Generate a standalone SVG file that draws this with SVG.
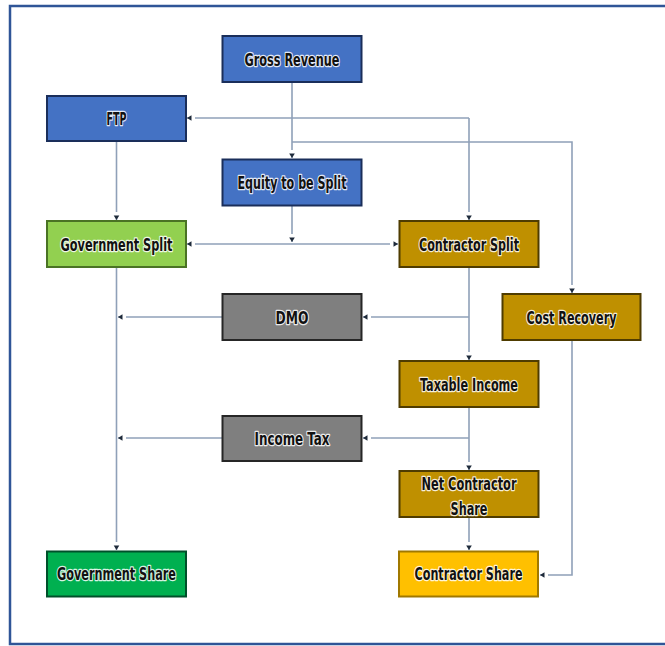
<svg xmlns="http://www.w3.org/2000/svg" width="665" height="646" viewBox="0 0 665 646">
  <defs>
    <style>
      .box { stroke-width: 2; }
      .blue { fill: #4472C4; stroke: #1A2E5A; }
      .lgreen { fill: #92D050; stroke: #4A7324; }
      .gold { fill: #BF9000; stroke: #4F3C00; }
      .gray { fill: #7F7F7F; stroke: #262626; }
      .green { fill: #00B050; stroke: #00502A; }
      .yellow { fill: #FFC000; stroke: #A07800; }
      .lbl { font-family: "Liberation Sans Narrow", "DejaVu Sans Condensed", "Liberation Sans", sans-serif; font-weight: bold; font-size: 17.5px; fill: #111111; stroke: #ffffff; stroke-width: 2.6; stroke-opacity: 0.85; paint-order: stroke; stroke-linejoin: round; text-anchor: middle; }
      .con { fill: none; stroke: #8FA0B8; stroke-width: 1.6; }
    </style>
    <marker id="arr" viewBox="0 0 10 8" refX="10" refY="4" markerWidth="10" markerHeight="8" markerUnits="userSpaceOnUse" orient="auto">
      <rect x="2" y="2.5" width="5" height="3" fill="#ffffff"/>
      <path d="M5.5,1.2 L10,4 L5.5,6.8 Z" fill="#1E2A3A"/>
    </marker>
  </defs>

  <rect x="10" y="6" width="670" height="638" fill="#ffffff" stroke="#2F5597" stroke-width="2.5"/>

  <g id="connectors">
    <path class="con" d="M292,82 V158" marker-end="url(#arr)"/>
    <path class="con" d="M469,118 H187" marker-end="url(#arr)"/>
    <path class="con" d="M469,118 V220" marker-end="url(#arr)"/>
    <path class="con" d="M292,142 H572 V293" marker-end="url(#arr)"/>
    <path class="con" d="M116.5,141 V220" marker-end="url(#arr)"/>
    <path class="con" d="M292,206 V242" marker-end="url(#arr)"/>
    <path class="con" d="M292,244 H187" marker-end="url(#arr)"/>
    <path class="con" d="M292,244 H398" marker-end="url(#arr)"/>
    <path class="con" d="M469,267 V360" marker-end="url(#arr)"/>
    <path class="con" d="M469,317 H363" marker-end="url(#arr)"/>
    <path class="con" d="M222,317 H118" marker-end="url(#arr)"/>
    <path class="con" d="M116.5,267 V550" marker-end="url(#arr)"/>
    <path class="con" d="M469,407 V470" marker-end="url(#arr)"/>
    <path class="con" d="M469,438 H363" marker-end="url(#arr)"/>
    <path class="con" d="M222,438 H118" marker-end="url(#arr)"/>
    <path class="con" d="M469,517 V550" marker-end="url(#arr)"/>
    <path class="con" d="M572,340 V575 H540" marker-end="url(#arr)"/>
  </g>

  <g id="gross-revenue">
    <rect class="box blue" x="222.5" y="36" width="139" height="46"/>
    <text class="lbl" x="292" y="65.5" textLength="95" lengthAdjust="spacingAndGlyphs">Gross Revenue</text>
  </g>
  <g id="ftp">
    <rect class="box blue" x="47" y="96" width="139" height="45"/>
    <text class="lbl" x="116.5" y="124.5" textLength="20" lengthAdjust="spacingAndGlyphs">FTP</text>
  </g>
  <g id="equity-to-be-split">
    <rect class="box blue" x="222.5" y="159.5" width="139" height="46"/>
    <text class="lbl" x="292" y="189" textLength="109" lengthAdjust="spacingAndGlyphs">Equity to be Split</text>
  </g>
  <g id="government-split">
    <rect class="box lgreen" x="47" y="221" width="139" height="46"/>
    <text class="lbl" x="116.5" y="250.5" textLength="112" lengthAdjust="spacingAndGlyphs">Government Split</text>
  </g>
  <g id="contractor-split">
    <rect class="box gold" x="399.5" y="221" width="139" height="46"/>
    <text class="lbl" x="469" y="250.5" textLength="100" lengthAdjust="spacingAndGlyphs">Contractor Split</text>
  </g>
  <g id="dmo">
    <rect class="box gray" x="222.5" y="294" width="139" height="46"/>
    <text class="lbl" x="292" y="323.5" textLength="33" lengthAdjust="spacingAndGlyphs">DMO</text>
  </g>
  <g id="cost-recovery">
    <rect class="box gold" x="502.5" y="294" width="138" height="46"/>
    <text class="lbl" x="571.5" y="323.5" textLength="90" lengthAdjust="spacingAndGlyphs">Cost Recovery</text>
  </g>
  <g id="taxable-income">
    <rect class="box gold" x="399.5" y="361" width="139" height="46"/>
    <text class="lbl" x="469" y="390.5" textLength="98" lengthAdjust="spacingAndGlyphs">Taxable Income</text>
  </g>
  <g id="income-tax">
    <rect class="box gray" x="222.5" y="416" width="139" height="45"/>
    <text class="lbl" x="292" y="445" textLength="75" lengthAdjust="spacingAndGlyphs">Income Tax</text>
  </g>
  <g id="net-contractor-share">
    <rect class="box gold" x="399.5" y="471" width="139" height="46"/>
    <text class="lbl" x="469" y="489.5" textLength="95" lengthAdjust="spacingAndGlyphs">Net Contractor</text>
    <text class="lbl" x="469" y="515" textLength="37" lengthAdjust="spacingAndGlyphs">Share</text>
  </g>
  <g id="government-share">
    <rect class="box green" x="47" y="551.5" width="139" height="45"/>
    <text class="lbl" x="116.5" y="580" textLength="119" lengthAdjust="spacingAndGlyphs">Government Share</text>
  </g>
  <g id="contractor-share">
    <rect class="box yellow" x="399" y="551.5" width="139" height="45"/>
    <text class="lbl" x="468.5" y="580" textLength="108" lengthAdjust="spacingAndGlyphs">Contractor Share</text>
  </g>
</svg>
